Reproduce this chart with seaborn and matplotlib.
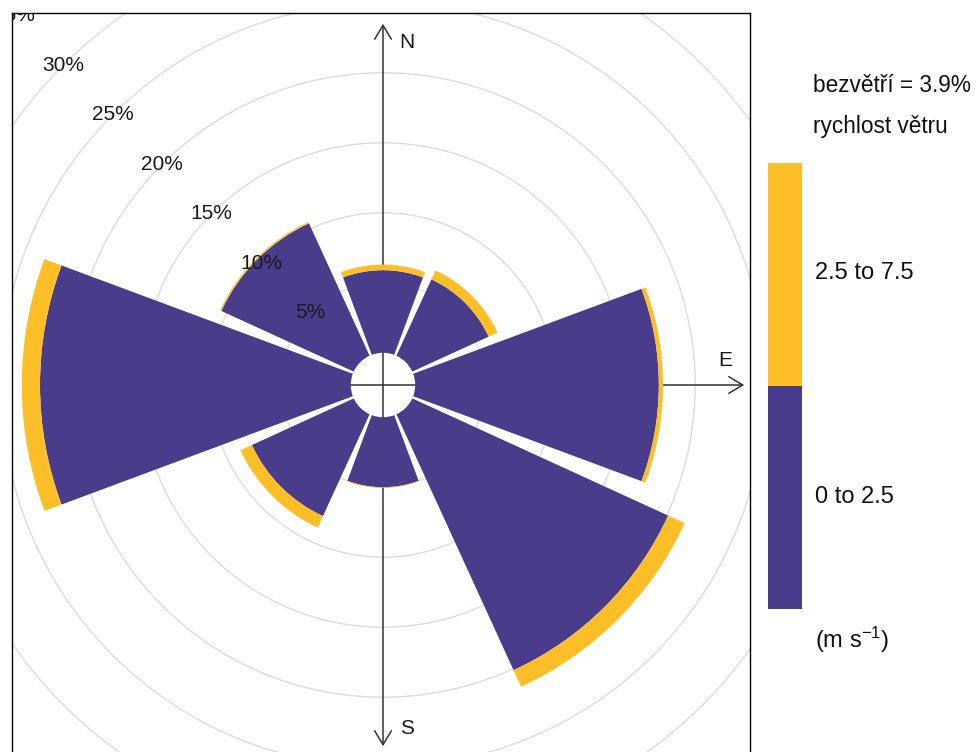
import numpy as np
import matplotlib
matplotlib.use("Agg")
import matplotlib.pyplot as plt
from matplotlib.patches import Wedge, Circle
import seaborn as sns

# Wind rose: frequency (%) of wind from each direction, split by speed class
directions = ["N", "NE", "E", "SE", "S", "SW", "W", "NW"]
dir_degrees = [0, 45, 90, 135, 180, 225, 270, 315]
speed_bins = ["0 to 2.5", "2.5 to 7.5"]
freq_low = [5.9, 6.0, 17.4, 20.1, 5.0, 8.0, 22.2, 10.4]
freq_high = [0.4, 0.7, 0.3, 1.3, 0.05, 0.9, 1.3, 0.1]
calm_pct = 3.9
ring_levels = [5, 10, 15, 20, 25, 30, 35]
bin_colors = ["#483C8B", "#FDBE28"]

sns.set_theme(style="white")
plt.rcParams["font.family"] = ["Liberation Sans", "DejaVu Sans"]
plt.rcParams["mathtext.default"] = "regular"

W, H = 979, 752
fig = plt.figure(figsize=(W / 100, H / 100), dpi=100)

# panel geometry (pixels) and radial scale (pixels per percent)
left, top, right, bottom = 12, 13, 750, 790
cx, cy = 383, 385
scale = 14.0
hole = 2.3          # empty centre, in percent units
half_w = 20.4       # half angular width of each petal

ax = fig.add_axes([left / W, 1 - bottom / H, (right - left) / W, (bottom - top) / H])
ax.set_xlim((left - cx) / scale, (right - cx) / scale)
ax.set_ylim((cy - bottom) / scale, (cy - top) / scale)
ax.set_xticks([])
ax.set_yticks([])
for sp in ax.spines.values():
    sp.set_visible(True)
    sp.set_color("black")
    sp.set_linewidth(1.0)

# concentric frequency rings
for lvl in ring_levels:
    ax.add_patch(Circle((0, 0), hole + lvl, fill=False, ec="#DCDCDC", lw=1.0, zorder=1))

# compass cross with arrows to N, E and S
L = 25.8
line_col = "#333333"
ax.plot([-L, 0], [0, 0], color=line_col, lw=1.1, zorder=2, solid_capstyle="butt")
arrow_kw = dict(arrowstyle="->,head_length=0.5,head_width=0.3", color=line_col, lw=1.1,
                shrinkA=0, shrinkB=0, mutation_scale=20)
for tip in [(0, L), (L, 0), (0, -L)]:
    ax.annotate("", xy=tip, xytext=(0, 0), arrowprops=arrow_kw, zorder=2)

lab_kw = dict(fontsize=15, color="#1a1a1a", ha="center", va="center")
ax.text(1.72, 24.45, "N", **lab_kw)
ax.text(24.45, 1.78, "E", **lab_kw)
ax.text(1.72, -24.5, "S", **lab_kw)

# petals, stacked by speed class
for deg, lo, hi in zip(dir_degrees, freq_low, freq_high):
    a = 90 - deg
    ax.add_patch(Wedge((0, 0), hole + lo, a - half_w, a + half_w, width=lo,
                       fc=bin_colors[0], ec="none", zorder=3))
    ax.add_patch(Wedge((0, 0), hole + lo + hi, a - half_w, a + half_w, width=hi,
                       fc=bin_colors[1], ec="none", zorder=3))

# ring labels along the north-west diagonal
ang = np.deg2rad(135)
for lvl in ring_levels:
    r = hole + lvl
    ax.text(r * np.cos(ang), r * np.sin(ang), f"{lvl}%", fontsize=15, color="#1a1a1a",
            ha="center", va="center", zorder=4, clip_on=True)

# speed legend
lax = fig.add_axes([768 / W, 1 - 609 / H, 34 / W, 446 / H])
lax.set_xlim(0, 1)
lax.set_ylim(0, 2)
lax.axis("off")
lax.bar([0.5], [1], bottom=[0], width=1, color=bin_colors[0], edgecolor="none")
lax.bar([0.5], [1], bottom=[1], width=1, color=bin_colors[1], edgecolor="none")

txt_kw = dict(fontsize=17, color="#111111", ha="left", va="center")
fig.text(815 / W, 1 - 273 / H, speed_bins[1], **txt_kw)
fig.text(815 / W, 1 - 497 / H, speed_bins[0], **txt_kw)
fig.text(815 / W, 1 - 640 / H, r"(m s$^{-1}$)", **txt_kw)
fig.text(813 / W, 1 - 85 / H, f"bezvětří = {calm_pct}%", fontsize=16.3, color="#111111",
         ha="left", va="center")
fig.text(813 / W, 1 - 127 / H, "rychlost větru", fontsize=16.3, color="#111111",
         ha="left", va="center")

fig.savefig("out.png", dpi=100)
